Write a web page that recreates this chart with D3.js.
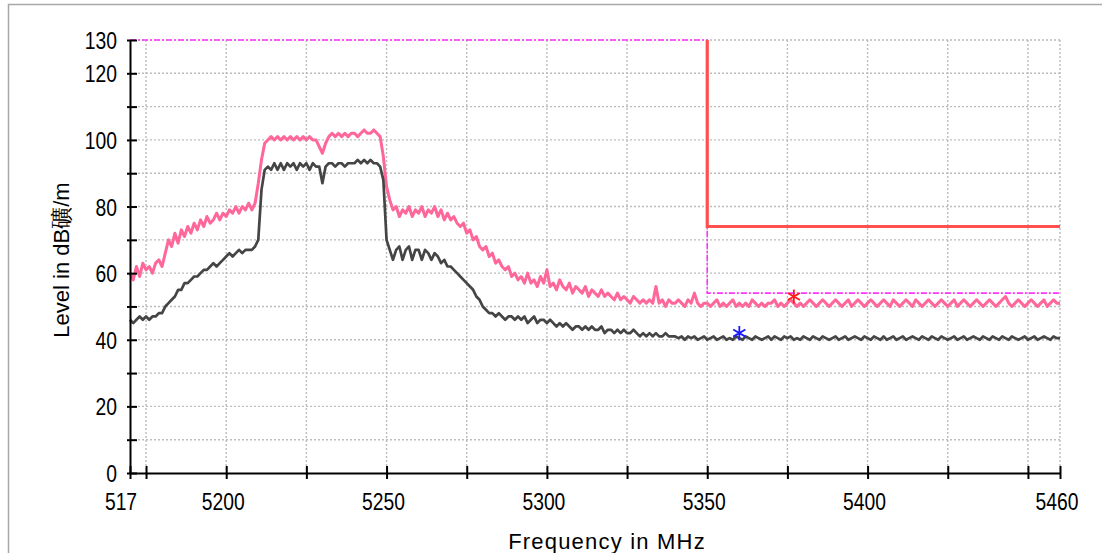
<!DOCTYPE html>
<html>
<head>
<meta charset="utf-8">
<script src="https://cdn.jsdelivr.net/npm/d3@7"></script>
<style>
  html, body { margin: 0; padding: 0; background: #ffffff; overflow: hidden; }
  svg { display: block; }
  .tick-label { font-family: "Liberation Sans", Arial, sans-serif; font-size: 23px; fill: #000; }
  .axis-title { font-family: "Liberation Sans", Arial, sans-serif; font-size: 22px; fill: #000; }
</style>
</head>
<body>
<script>
// ---------------- DATA ----------------
const freqStart = 5170;
const freqEnd = 5460;

// Pink trace (peak / upper), level in dBµV/m at 1 MHz steps from 5170 to 5460
const pinkLevels = [
  60,58,62,59,63,61,62,60,63,64,
  62,66,70,68,72,69,73,71,74,72,
  75,73,76,74,77,75,76,78,76,78,
  77,79,78,80,78,80,79,81,79,81,
  87,94,99,100,101,100,101,100,101,100,
  101,100,101,100,101,100,101,100,100,98,
  96,99,101,102,101,102,101,102,101,102,
  102,101,102,103,102,102,103,102,101,95,
  86,82,79,80,77,79,78,80,77,79,
  78,80,77,79,78,80,77,79,76,78,
  76,77,75,74,75,72,73,70,71,68,
  67,68,65,66,63,64,62,61,62,59,
  60,58,59,57,60,57,58,56,59,57,
  61,56,57,55,58,56,55,57,54,56,
  55,54,56,53,55,54,53,55,53,54,
  53,52,54,52,53,52,51,53,52,51,
  52,51,52,51,56,51,52,50,52,51,
  51,52,51,50,52,51,54,51,50,51,
  51,50,51,52,50,51,50,51,52,50,
  51,50,51,50,52,51,50,51,50,51,
  51,52,50,51,50,51,52,51,50,51,
  50,51,52,51,50,51,52,51,50,51,
  52,51,50,51,52,50,51,52,51,50,
  51,52,51,50,51,52,51,50,52,51,
  50,51,52,51,50,52,51,50,51,52,
  51,50,51,52,51,50,51,52,50,51,
  52,51,50,51,52,51,50,51,52,51,
  50,51,52,53,51,50,51,52,51,50,
  51,52,51,50,51,52,50,51,52,51,
  51
];

// Dark gray trace (average / lower)
const grayLevels = [
  46,45,46,47,46,47,46,47,47,48,
  48,50,51,52,53,55,55,57,57,58,
  59,59,60,61,61,62,63,62,63,64,
  65,66,65,66,67,66,67,67,67,68,
  70,85,91,92,91,93,91,93,91,93,
  92,93,91,93,92,93,91,93,92,92,
  87,92,93,93,92,93,93,92,93,93,
  93,94,93,94,93,94,93,93,92,88,
  70,67,64,67,68,64,67,68,64,67,
  67,64,67,66,64,66,65,63,64,62,
  62,61,60,59,58,57,56,55,53,52,
  50,49,48,48,47,48,47,46,47,47,
  46,47,46,47,45,46,47,45,46,46,
  45,46,45,44,45,44,45,44,43,44,
  44,43,44,43,44,43,43,44,42,43,
  43,42,43,42,43,42,42,43,42,41,
  42,41,42,41,42,41,41,42,41,41,
  41,40.5,41,40,41,40.5,41,40,40.5,41,
  40,40.5,41,40,40.5,41,40,40.5,40,41,
  40.5,40,41,40.5,40,41,40.5,40,40.5,41,
  40,41,40.5,40,41,40.5,41,40,40.5,40,
  41,40.5,40,41,40.5,40,41,40.5,40,40.5,
  41,40,40.5,41,40,40.5,41,40.5,40,41,
  40.5,40,41,40.5,40,41,40,40.5,41,40,
  40.5,41,40,40.5,41,40.5,40,41,40.5,40,
  41,40.5,40,41,40.5,40,40.5,41,40,40.5,
  41,40,40.5,41,40.5,40,41,40.5,40,41,
  40.5,40,41,40.5,40,41,40.5,40,40.5,41,
  40,40.5,41,40,40.5,41,40.5,40,41,40.5,
  40.5
];

// Limit lines
const redLimitFreq  = [5350, 5350, 5460];
const redLimitLevel = [130, 74, 74];
const magLimitFreq  = [5170, 5350, 5350, 5460];
const magLimitLevel = [130, 130, 54, 54];

// Markers
const markerFreq   = [5377, 5360];
const markerLevel  = [53, 42];
const markerColor  = ["#ff1a1a", "#1a1aff"];

// Axis ticks
const xTickValues  = [5170, 5175, 5200, 5225, 5250, 5275, 5300, 5325, 5350, 5375, 5400, 5425, 5450, 5460];
const xGridValues  = [5175, 5200, 5225, 5250, 5275, 5300, 5325, 5350, 5375, 5400, 5425, 5450, 5460];
const xLabelValues = [5170, 5200, 5250, 5300, 5350, 5400, 5460];
const xLabelTexts  = ["517", "5200", "5250", "5300", "5350", "5400", "5460"];
const yTickValues  = [0,10,20,30,40,50,60,70,80,90,100,110,120,130];
const yGridValues  = [10,20,30,40,50,60,70,80,90,100,110,120,130];
const yLabelValues = [0,20,40,60,80,100,120,130];

const xTitle = "Frequency in MHz";
const yTitle = "Level in dB礦/m";

// ---------------- DRAW ----------------
const W = 1102, H = 553;
const svg = d3.select("body").append("svg").attr("width", W).attr("height", H);

// outer frame
svg.append("rect").attr("x", 8.5).attr("y", 4.5).attr("width", W + 20).attr("height", H + 20)
  .attr("fill", "#fff").attr("stroke", "#a8a8a8").attr("stroke-width", 1.5);

const x = d3.scaleLinear().domain([freqStart, freqEnd]).range([130, 1060]);
const y = d3.scaleLinear().domain([0, 130]).range([473, 40]);

const freqs = d3.range(freqStart, freqEnd + 1, 1);

// grid
const grid = svg.append("g").attr("stroke", "#bcbcbc").attr("stroke-width", 1.4).attr("stroke-dasharray", "2,2");
grid.selectAll("line.v").data(xGridValues).join("line")
  .attr("x1", d => x(d)).attr("x2", d => x(d)).attr("y1", y(130)).attr("y2", y(0));
grid.selectAll("line.h").data(yGridValues).join("line")
  .attr("x1", x(freqStart)).attr("x2", x(freqEnd)).attr("y1", d => y(d)).attr("y2", d => y(d));

// traces
const line = d3.line().x(d => x(d[0])).y(d => y(d[1]));
svg.append("path").datum(freqs.map((f, i) => [f, pinkLevels[i]]))
  .attr("d", line).attr("fill", "none").attr("stroke", "#ff6699").attr("stroke-width", 3)
  .attr("stroke-linejoin", "round");
svg.append("path").datum(freqs.map((f, i) => [f, grayLevels[i]]))
  .attr("d", line).attr("fill", "none").attr("stroke", "#454545").attr("stroke-width", 2.7)
  .attr("stroke-linejoin", "round");

// limit lines
svg.append("path").datum(magLimitFreq.map((f, i) => [f, magLimitLevel[i]]))
  .attr("d", line).attr("fill", "none").attr("stroke", "#ff33ff").attr("stroke-width", 1.6)
  .attr("stroke-dasharray", "6,2,2,2");
svg.append("path").datum(redLimitFreq.map((f, i) => [f, redLimitLevel[i]]))
  .attr("d", line).attr("fill", "none").attr("stroke", "#ff4f4f").attr("stroke-width", 3.2);

// markers
const sym = d3.symbol().type(d3.symbolAsterisk).size(140);
svg.selectAll("path.marker").data(markerFreq).join("path")
  .attr("transform", (d, i) => `translate(${x(d)},${y(markerLevel[i])})`)
  .attr("d", sym).attr("fill", "none")
  .attr("stroke", (d, i) => markerColor[i]).attr("stroke-width", 1.8);

// axes
const xAxis = svg.append("g").attr("transform", `translate(0,${y(0)})`)
  .call(d3.axisBottom(x).tickValues(xTickValues).tickFormat("").tickSizeInner(6).tickSizeOuter(0));
xAxis.selectAll(".tick line").attr("y1", -7).attr("y2", 6).attr("stroke", "#000").attr("stroke-width", 2);
xAxis.select(".domain").attr("stroke", "#000").attr("stroke-width", 2);

const yAxis = svg.append("g").attr("transform", `translate(${x(freqStart)},0)`)
  .call(d3.axisLeft(y).tickValues(yTickValues).tickFormat("").tickSizeInner(3).tickSizeOuter(0));
yAxis.selectAll(".tick line").attr("x1", -3).attr("x2", 7).attr("stroke", "#000").attr("stroke-width", 2);
yAxis.select(".domain").attr("stroke", "#000").attr("stroke-width", 2);

// tick labels (condensed look via horizontal scale)
svg.selectAll("g.xl").data(xLabelValues).join("g")
  .attr("transform", (d, i) => `translate(${x(d) + (i === 0 ? -9 : -3)},510) scale(0.84,1)`)
  .append("text")
  .attr("class", "tick-label")
  .attr("text-anchor", "middle")
  .text((d, i) => xLabelTexts[i]);

svg.selectAll("g.yl").data(yLabelValues).join("g")
  .attr("transform", d => `translate(117,${y(d) + 9})  scale(0.84,1)`)
  .append("text")
  .attr("class", "tick-label")
  .attr("text-anchor", "end")
  .text(d => d);

// titles
svg.append("text").attr("class", "axis-title")
  .attr("x", 607).attr("y", 549).attr("text-anchor", "middle")
  .style("letter-spacing", "1.2px")
  .text(xTitle);
svg.append("text").attr("class", "axis-title")
  .attr("transform", "translate(69,260) rotate(-90)")
  .attr("text-anchor", "middle")
  .text(yTitle);
</script>
</body>
</html>
